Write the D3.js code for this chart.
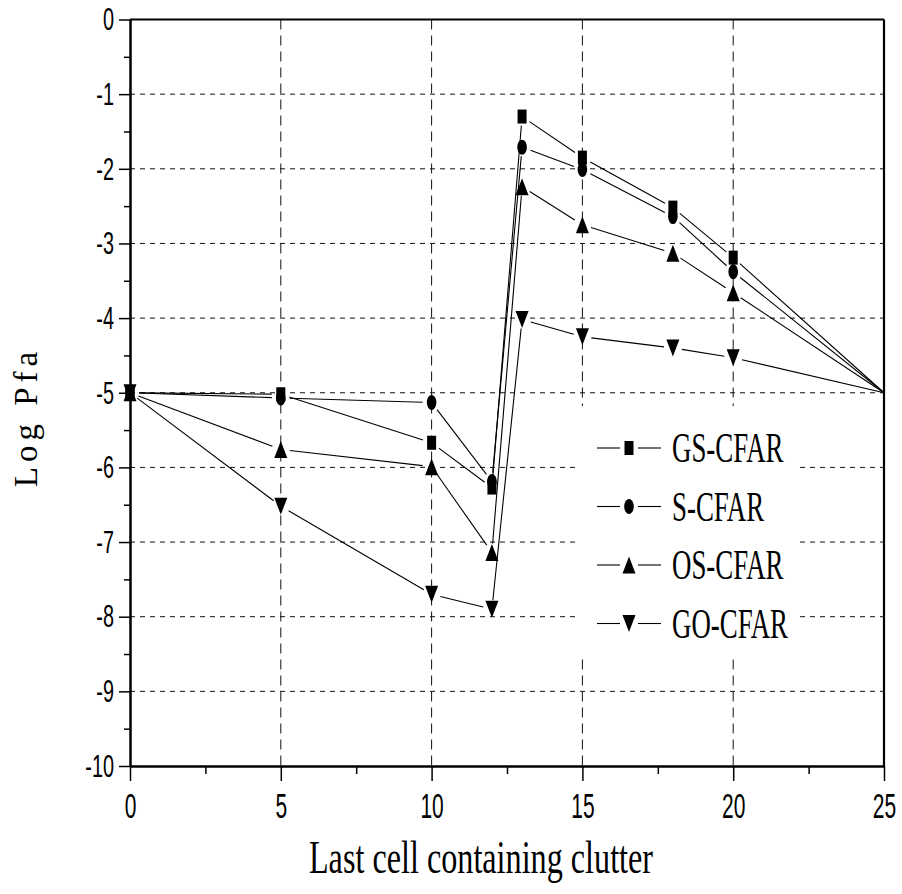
<!DOCTYPE html>
<html>
<head>
<meta charset="utf-8">
<script src="https://cdn.jsdelivr.net/npm/d3@7"></script>
<style>
  html, body { margin: 0; padding: 0; background: #fff; }
  svg { display: block; }
</style>
</head>
<body>
<svg id="chart" width="902" height="894"></svg>
<script>
// ---- data ----
const cells = [0, 5, 10, 12, 13, 15, 18, 20, 25];
const gsCfar = [-5, -5.02, -5.67, -6.27, -1.30, -1.85, -2.52, -3.19, -5];
const sCfar  = [-5, -5.07, -5.13, -6.19, -1.71, -2.01, -2.64, -3.38, -5];
const osCfar = [-5, -5.76, -5.99, -7.14, -2.24, -2.75, -3.13, -3.66, -5];
const goCfar = [-5, -6.52, -7.70, -7.90, -4.02, -4.25, -4.40, -4.53, -5];
const seriesNames = ["GS-CFAR", "S-CFAR", "OS-CFAR", "GO-CFAR"];
const seriesSymbols = ["square", "circle", "triUp", "triDown"];
const xTickValues = [0, 5, 10, 15, 20, 25];
const xMinorValues = [2.5, 7.5, 12.5, 17.5, 22.5];
const yTickValues = [0, -1, -2, -3, -4, -5, -6, -7, -8, -9, -10];
const yMinorValues = [-0.5, -1.5, -2.5, -3.5, -4.5, -5.5, -6.5, -7.5, -8.5, -9.5];
const xTitle = "Last cell containing clutter";
const yTitle = "Log Pfa";

const series = [gsCfar, sCfar, osCfar, goCfar].map((vals, i) => ({
  name: seriesNames[i], symbol: seriesSymbols[i],
  pts: cells.map((c, j) => ({ x: c, y: vals[j], marker: c !== 25 }))
}));

// ---- layout ----
const L = 130, R = 884, T = 19.5, B = 766;
const SX = 0.6; // horizontal compression of the original tick glyphs
const svg = d3.select("#chart");
const x = d3.scaleLinear().domain([0, 25]).range([L, R]);
const y = d3.scaleLinear().domain([-10, 0]).range([B, T]);

// gridlines
const grid = svg.append("g");
grid.selectAll("line.h").data(yTickValues.filter(v => v !== 0 && v !== -10)).join("line")
  .attr("x1", L).attr("x2", R).attr("y1", d => y(d)).attr("y2", d => y(d))
  .attr("stroke", "#111").attr("stroke-width", 1).attr("stroke-dasharray", "5,5");
grid.selectAll("line.v").data(xTickValues.filter(v => v !== 0 && v !== 25)).join("line")
  .attr("y1", T).attr("y2", B).attr("x1", d => x(d)).attr("x2", d => x(d))
  .attr("stroke", "#111").attr("stroke-width", 1).attr("stroke-dasharray", "10,6");

// series lines with gaps near markers
const GAP = 9;
const lineG = svg.append("g");
series.forEach(s => {
  for (let i = 0; i < s.pts.length - 1; i++) {
    const a = s.pts[i], b = s.pts[i + 1];
    let x1 = x(a.x), y1 = y(a.y), x2 = x(b.x), y2 = y(b.y);
    const dx = x2 - x1, dy = y2 - y1, len = Math.hypot(dx, dy);
    const ux = dx / len, uy = dy / len;
    const g1 = a.marker ? GAP : 0, g2 = b.marker ? GAP : 0;
    lineG.append("line")
      .attr("x1", x1 + ux * g1).attr("y1", y1 + uy * g1)
      .attr("x2", x2 - ux * g2).attr("y2", y2 - uy * g2)
      .attr("stroke", "#000").attr("stroke-width", 1.1);
  }
});

function drawMarker(g, sym, cx, cy) {
  if (sym === "square") {
    g.append("rect").attr("x", cx - 4.5).attr("y", cy - 7).attr("width", 9).attr("height", 14).attr("fill", "#000");
  } else if (sym === "circle") {
    g.append("ellipse").attr("cx", cx).attr("cy", cy).attr("rx", 4.8).attr("ry", 7.5).attr("fill", "#000");
  } else if (sym === "triUp") {
    g.append("path").attr("d", `M${cx},${cy - 8.5}L${cx + 6.5},${cy + 8.5}L${cx - 6.5},${cy + 8.5}Z`).attr("fill", "#000");
  } else {
    g.append("path").attr("d", `M${cx - 6.5},${cy - 8.5}L${cx + 6.5},${cy - 8.5}L${cx},${cy + 8.5}Z`).attr("fill", "#000");
  }
}
const markG = svg.append("g");
series.forEach(s => s.pts.filter(p => p.marker).forEach(p => drawMarker(markG, s.symbol, x(p.x), y(p.y))));

// axes
const fmt = d => String(d);
const yAxis = svg.append("g").attr("transform", `translate(${L},0)`)
  .call(d3.axisLeft(y).tickValues(yTickValues).tickFormat(fmt).tickSize(11).tickSizeOuter(0).tickPadding(5));
const yMinor = svg.append("g").attr("transform", `translate(${L},0)`)
  .call(d3.axisLeft(y).tickValues(yMinorValues).tickFormat("").tickSize(6).tickSizeOuter(0));
const xAxis = svg.append("g").attr("transform", `translate(0,${B})`)
  .call(d3.axisBottom(x).tickValues(xTickValues).tickFormat(fmt).tickSize(15).tickSizeOuter(0).tickPadding(12));
const xMinor = svg.append("g").attr("transform", `translate(0,${B})`)
  .call(d3.axisBottom(x).tickValues(xMinorValues).tickFormat("").tickSize(8).tickSizeOuter(0));
[yAxis, yMinor, xAxis, xMinor].forEach(a => {
  a.attr("font-family", "'Liberation Sans', Arial, sans-serif");
  a.select(".domain").attr("stroke", "#000").attr("stroke-width", 2);
  a.selectAll(".tick line").attr("stroke", "#000").attr("stroke-width", 1.5);
  a.selectAll("text").attr("fill", "#000")
    .style("font-family", "'Liberation Sans', Arial, sans-serif");
});
yAxis.attr("font-size", 32);
yAxis.selectAll("text").style("font-size", "32px").attr("x", -16 / 0.62).attr("transform", `scale(0.62,1)`);
xAxis.attr("font-size", 35);
xAxis.selectAll("text").style("font-size", "35px").attr("transform", `scale(${SX},1)`);

// top and right frame
svg.append("line").attr("x1", L).attr("x2", R).attr("y1", T).attr("y2", T).attr("stroke", "#000").attr("stroke-width", 2);
svg.append("line").attr("x1", R).attr("x2", R).attr("y1", T).attr("y2", B).attr("stroke", "#000").attr("stroke-width", 2.2);

// titles
svg.append("text").attr("transform", `translate(481,873) scale(0.7,1)`)
  .attr("text-anchor", "middle").attr("font-family", "'Liberation Serif', 'Times New Roman', serif")
  .attr("font-size", 46).attr("fill", "#000").text(xTitle);
svg.append("text").attr("transform", `translate(37,417) rotate(-90)`)
  .attr("text-anchor", "middle").attr("font-family", "'Liberation Serif', 'Times New Roman', serif")
  .attr("font-size", 33).attr("fill", "#000").attr("letter-spacing", 5).text(yTitle);

// legend
const lg = svg.append("g");
lg.append("rect").attr("x", 576).attr("y", 406).attr("width", 223).attr("height", 251).attr("fill", "#fff");
series.forEach((s, i) => {
  const cy = 448 + i * 58.5;
  lg.append("line").attr("x1", 597).attr("x2", 620).attr("y1", cy).attr("y2", cy).attr("stroke", "#000").attr("stroke-width", 1.1);
  lg.append("line").attr("x1", 638).attr("x2", 661).attr("y1", cy).attr("y2", cy).attr("stroke", "#000").attr("stroke-width", 1.1);
  drawMarker(lg, s.symbol, 629, cy);
  lg.append("text").attr("transform", `translate(672,${cy + 14}) scale(0.64,1)`)
    .attr("font-family", "'Liberation Serif', 'Times New Roman', serif")
    .attr("font-size", 42).attr("fill", "#000").text(s.name);
});
</script>
</body>
</html>
